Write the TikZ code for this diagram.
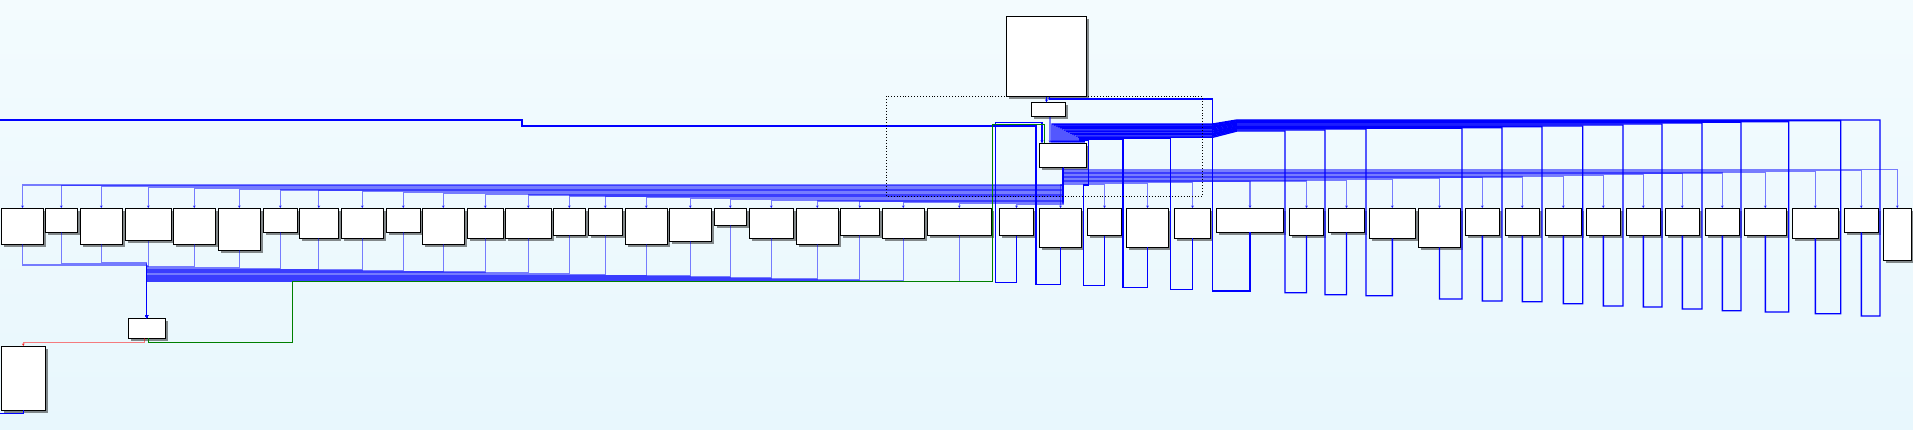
\documentclass[tikz,border=0pt]{standalone}
\usepackage{tikz}
\usetikzlibrary{arrows.meta,shadows,calc,positioning}
\definecolor{bgtop}{RGB}{243,251,254}
\definecolor{bgbot}{RGB}{232,247,253}
\tikzset{
    blk/.style={% white box with shadow
        draw=black, fill=white, line width=1pt, anchor=north west,
        inner sep=0pt, outer sep=0pt,
        drop shadow={shadow xshift=2.5pt,shadow yshift=-2.5pt,fill=black,opacity=.45}},
    lite/.style={draw=blue, draw opacity=.5, line width=1.2pt},
    dk/.style={draw=blue, line width=1.4pt},
    grn/.style={draw=green!50!black, line width=1.3pt},
    rd/.style={draw=red, draw opacity=.5, line width=1.2pt}
}

\begin{document}
\begin{tikzpicture}[x=1pt,y=-1pt,>={Stealth[length=3pt,width=3pt]}]
    \shade [top color=bgtop,bottom color=bgbot] (0,0) rectangle (1913,430);
    \useasboundingbox (0,0) rectangle (1913,430);

    % upper group
    \node [blk,minimum width=80.4pt,minimum height=80.4pt] (top) at (1006.3,16.3) {};
    \node [blk,minimum width=34.4pt,minimum height=14.4pt] (sw) at (1031.3,102.3) {};
    \node [blk,minimum width=47.4pt,minimum height=24.4pt] (mid) at (1039.3,143.3) {};

    % row
    \node [blk,minimum width=42.4pt,minimum height=36pt] (b1) at (1.3,208.3) {};
    \node [blk,minimum width=32pt,minimum height=24pt] (b2) at (45.3,208.3) {};
    \node [blk,minimum width=42pt,minimum height=36pt] (b3) at (80.3,208.3) {};
    \node [blk,minimum width=46pt,minimum height=32.7pt] (b4) at (125.3,208.3) {};
    \node [blk,minimum width=42pt,minimum height=36pt] (b5) at (173.3,208.3) {};
    \node [blk,minimum width=42pt,minimum height=42pt] (b6) at (218.3,208.3) {};
    \node [blk,minimum width=34pt,minimum height=24pt] (b7) at (263.3,208.3) {};
    \node [blk,minimum width=39pt,minimum height=30pt] (b8) at (299.3,208.3) {};
    \node [blk,minimum width=42pt,minimum height=30pt] (b9) at (341.3,208.3) {};
    \node [blk,minimum width=34pt,minimum height=24pt] (b10) at (386.3,208.3) {};
    \node [blk,minimum width=42pt,minimum height=36pt] (b11) at (422.3,208.3) {};
    \node [blk,minimum width=36pt,minimum height=30pt] (b12) at (467.3,208.3) {};
    \node [blk,minimum width=46pt,minimum height=30pt] (b13) at (505.3,208.3) {};
    \node [blk,minimum width=32pt,minimum height=27pt] (b14) at (553.3,208.3) {};
    \node [blk,minimum width=34pt,minimum height=27pt] (b15) at (588.3,208.3) {};
    \node [blk,minimum width=42pt,minimum height=36pt] (b16) at (625.3,208.3) {};
    \node [blk,minimum width=42pt,minimum height=33pt] (b17) at (669.3,208.3) {};
    \node [blk,minimum width=32pt,minimum height=17pt] (b18) at (714.3,208.3) {};
    \node [blk,minimum width=44pt,minimum height=30pt] (b19) at (749.3,208.3) {};
    \node [blk,minimum width=42pt,minimum height=36pt] (b20) at (796.3,208.3) {};
    \node [blk,minimum width=39pt,minimum height=27pt] (b21) at (840.3,208.3) {};
    \node [blk,minimum width=42pt,minimum height=30pt] (b22) at (882.3,208.3) {};
    \node [blk,minimum width=64pt,minimum height=27pt] (b23) at (927.3,208.3) {};
    \node [blk,minimum width=34.4pt,minimum height=27.4pt] (b24) at (999.3,208.3) {};
    \node [blk,minimum width=42.4pt,minimum height=39pt] (b25) at (1039.3,208.3) {};
    \node [blk,minimum width=34.4pt,minimum height=27.4pt] (b26) at (1087.3,208.3) {};
    \node [blk,minimum width=42.4pt,minimum height=39pt] (b27) at (1126.3,208.3) {};
    \node [blk,minimum width=36.4pt,minimum height=30pt] (b28) at (1174.3,208.3) {};
    \node [blk,minimum width=67.4pt,minimum height=24pt] (b29) at (1216.3,208.3) {};
    \node [blk,minimum width=34.4pt,minimum height=27.4pt] (b30) at (1289.3,208.3) {};
    \node [blk,minimum width=36.4pt,minimum height=24pt] (b31) at (1328.3,208.3) {};
    \node [blk,minimum width=46pt,minimum height=30pt] (b32) at (1369.3,208.3) {};
    \node [blk,minimum width=42.4pt,minimum height=39pt] (b33) at (1418.3,208.3) {};
    \node [blk,minimum width=34pt,minimum height=27.4pt] (b34) at (1465.3,208.3) {};
    \node [blk,minimum width=34pt,minimum height=27.4pt] (b35) at (1505.3,208.3) {};
    \node [blk,minimum width=36pt,minimum height=27.4pt] (b36) at (1545.3,208.3) {};
    \node [blk,minimum width=34pt,minimum height=27.4pt] (b37) at (1586.3,208.3) {};
    \node [blk,minimum width=34pt,minimum height=27.4pt] (b38) at (1626.3,208.3) {};
    \node [blk,minimum width=34pt,minimum height=27.4pt] (b39) at (1665.3,208.3) {};
    \node [blk,minimum width=34pt,minimum height=27.4pt] (b40) at (1705.3,208.3) {};
    \node [blk,minimum width=42pt,minimum height=27.4pt] (b41) at (1744.3,208.3) {};
    \node [blk,minimum width=46pt,minimum height=30pt] (b42) at (1792.3,208.3) {};
    \node [blk,minimum width=34pt,minimum height=24pt] (b43) at (1844.3,208.3) {};
    \node [blk,minimum width=28pt,minimum height=52pt] (b44) at (1883.3,208.3) {};

    % lower left
    \node [blk,minimum width=37pt,minimum height=20pt] (jn) at (128.3,318.3) {};
    \node [blk,minimum width=44pt,minimum height=64pt] (lf) at (1.3,346.3) {};

    \coordinate (lout) at (0,120);
    \coordinate (lo) at (0,413.3);

    % fan out from mid
    \foreach \i [evaluate=\i as \dy using 17.3+0.84*(\i-1)] in {1,...,24}
        \draw [lite,->] (mid.south) -- ++(0,\dy) -| (b\i.north);
    \foreach \i [evaluate=\i as \dy using 17.3-0.8*(\i-25)] in {25,...,44}
        \draw [lite,->] (mid.south) -- ++(0,\dy) -| (b\i.north);

    % collect into jn
    \foreach \i/\y in {1/265,2/263.7,3/262.3,4/266,5/266.7,6/267.4,7/268.3,8/269.2,
            9/270,10/270.8,11/271.3,12/272,13/272.7,14/273.5,15/274.3,16/275.2,
            17/276,18/277,19/278,20/279,21/280,22/281,23/281.7}
        \draw [lite,->] (b\i.south) |- ($(jn.north)+(0,\y-318.3)$) -- (jn.north);

    % loops back to mid
    \foreach \i/\yd/\xu/\yt/\dx in {24/282.7/995.3/122.3/-21,27/287.7/1123/139.5/19,
            28/289.7/1170.7/138.5/17}
        \draw [dk,->] (b\i.south) |- (\xu,\yd) -- (\xu,\yt) -| ($(mid.north)+(\dx,0)$);
    \draw [dk,->] (b26.south) |- (1083.7,285.7) -- (1083.7,185) -- (1088.7,185)
        -- (1088.7,140.5) -| ($(mid.north)+(21,0)$);
    \foreach \i/\yd/\xu/\yt/\dx in {30/292.7/1285/131/15,31/294.7/1325/130/13,
            32/295.7/1366/129/11,33/299/1462/128.3/9,34/301/1502/127.7/7,
            35/301.7/1542/126.7/5,36/303.7/1582.7/126/3,37/306/1623/125/1,
            38/307/1662/124/-1,39/309/1702/123/-3,40/310.7/1741/122.3/-5,
            41/312/1788.7/121.7/-7,42/313.7/1840.7/120.7/-9,43/316/1880/120/-11}
        \draw [dk,->] (b\i.south) |- (\xu,\yd) -- (\xu,\yt) -- (1237,\yt)
            -- (1213,{124+1.2*(\yt-120)}) -| ($(mid.north)+(\dx,0)$);

    % the two odd loops
    \draw [dk,->] (b29.south) |- (1212.7,291) -- (1212.7,99) -| ($(top.south)+(3,0)$);
    \draw [dk] (b25.south) |- (1036,284.3) -- (1036,126) -- (522,126) |- (lout);

    \draw [dk,->] (top.south) -- (top.south |- sw.north);
    \draw [lite,->] ([xshift=1.5pt]sw.south) -- ([xshift=1.5pt]sw.south |- mid.north);

    \draw [grn] ([xshift=2pt]jn.south) -- ++(0,4.4) -| (292.7,281.7)
        -| (992.7,124.3) -| ($(mid.north)+(-18.7,0)$);
    \draw [rd,->] ([xshift=-2pt]jn.south) -- ++(0,4.4) -| (lf.north);
    \draw [dk] (lf.south) |- (lo);

    \draw [dotted,line width=.9pt] (886.3,96.3) rectangle (1202.3,196.3);
\end{tikzpicture}
\end{document}
